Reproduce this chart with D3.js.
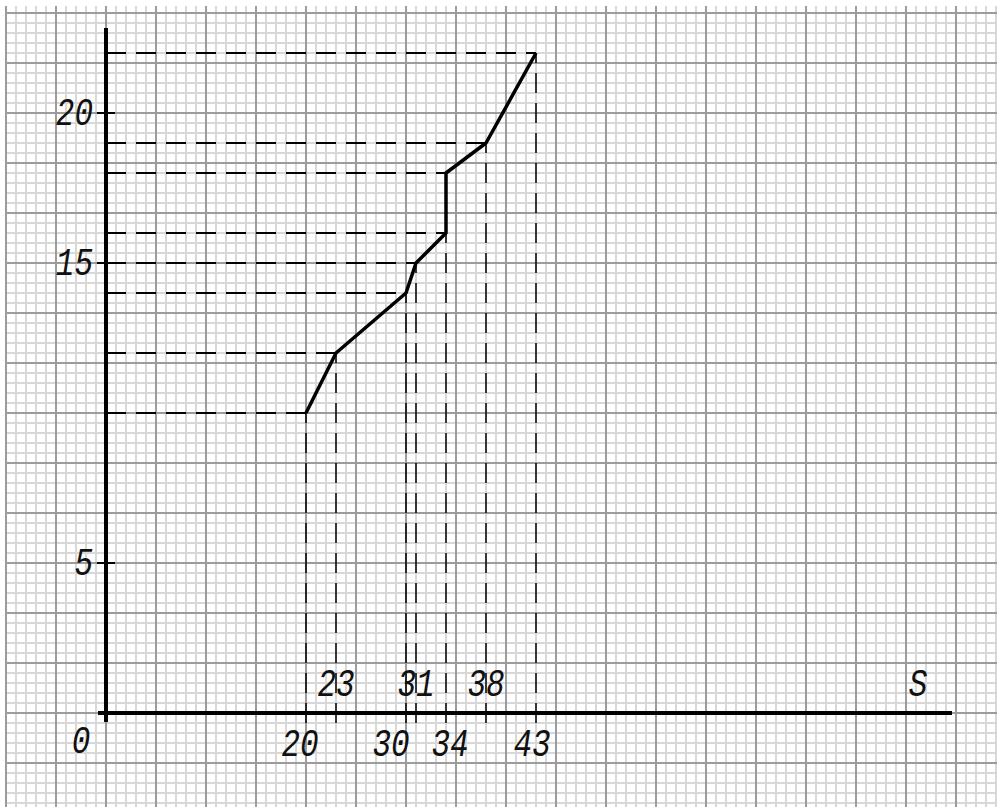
<!DOCTYPE html>
<html><head><meta charset="utf-8">
<script src="https://cdn.jsdelivr.net/npm/d3@7"></script>
<style>body{margin:0;background:#fff;}svg{display:block;}</style>
</head><body>
<script>
// Data
const sValues = [20, 23, 30, 31, 34, 34, 38, 43];
const yValues = [10, 12, 14, 15, 16, 18, 19, 22];
const xTopLabels = ["23", "31", "38"];
const xTopLabelValues = [23, 31, 38];
const xBottomLabels = ["20", "30", "34", "43"];
const xBottomLabelValues = [20, 30, 34, 43];
const yTickValues = [5, 15, 20];
const yTickLabels = ["5", "15", "20"];

(function () {
const W = 997, H = 807;
const svg = d3.select("body").append("svg").attr("width", W).attr("height", H);

const x = d3.scaleLinear().domain([0, 1]).range([106, 116]);
const y = d3.scaleLinear().domain([0, 1]).range([713, 683]);

// Grid
const g = svg.append("g");
const gx = d3.range(-10, 90);
const gy = d3.range(-9, 71);
const gridTop = 6, gridLeft = 7;
function drawGrid(major) {
  g.selectAll(null).data(gx.filter(k => (k % 5 === 0) === major)).join("line")
    .attr("x1", k => x(k)).attr("x2", k => x(k)).attr("y1", gridTop).attr("y2", H)
    .attr("stroke", major ? "#9c9c9c" : "#d8d8d8").attr("stroke-width", 2);
  g.selectAll(null).data(gy.filter(k => (k % 5 === 0) === major)).join("line")
    .attr("y1", k => 713 - 10 * k).attr("y2", k => 713 - 10 * k).attr("x1", gridLeft).attr("x2", W)
    .attr("stroke", major ? "#9c9c9c" : "#d8d8d8").attr("stroke-width", 2);
}
drawGrid(false);
drawGrid(true);

// Dashed guides
const pts = sValues.map((s, i) => [s, yValues[i]]);
svg.append("g").selectAll("line").data(pts).join("line")
  .attr("x1", x(0)).attr("x2", d => x(d[0])).attr("y1", d => y(d[1])).attr("y2", d => y(d[1]))
  .attr("stroke", "#000").attr("stroke-width", 2).attr("stroke-dasharray", "20,10");
const vx = Array.from(new Set(sValues));
svg.append("g").selectAll("line").data(vx).join("line")
  .attr("x1", d => x(d)).attr("x2", d => x(d)).attr("y1", 723)
  .attr("y2", d => y(d3.min(pts.filter(p => p[0] === d), p => p[1])))
  .attr("stroke", "#000").attr("stroke-width", 1.5).attr("stroke-dasharray", "20,10");

// Axes
svg.append("line").attr("x1", x(0)).attr("x2", x(0)).attr("y1", 28).attr("y2", 722)
  .attr("stroke", "#000").attr("stroke-width", 4);
svg.append("line").attr("x1", 98).attr("x2", 952).attr("y1", y(0)).attr("y2", y(0))
  .attr("stroke", "#000").attr("stroke-width", 4);
svg.append("g").selectAll("line").data(yTickValues).join("line")
  .attr("x1", 97).attr("x2", 115).attr("y1", d => y(d)).attr("y2", d => y(d))
  .attr("stroke", "#000").attr("stroke-width", 2);

// Curve
svg.append("path").datum(pts)
  .attr("d", d3.line().x(d => x(d[0])).y(d => y(d[1])))
  .attr("fill", "none").attr("stroke", "#000").attr("stroke-width", 3.5).attr("stroke-linejoin", "round");

// Labels
const font = "'Liberation Mono', monospace";
const fs = 31;
function txt(t, px, py, anchor) {
  svg.append("text").attr("transform", `translate(${px},${py}) scale(1,1.25)`)
    .attr("text-anchor", anchor || "middle")
    .attr("font-family", font).attr("font-style", "italic").attr("font-size", fs)
    .attr("fill", "#111").text(t);
}
yTickLabels.forEach((t, i) => txt(t, 93, y(yTickValues[i]) + 12, "end"));
xTopLabels.forEach((t, i) => txt(t, x(xTopLabelValues[i]), 696));
const bottomShift = [-6, -15, 4, -4];
xBottomLabels.forEach((t, i) => txt(t, x(xBottomLabelValues[i]) + bottomShift[i], 756));
txt("0", 81, 753);
txt("S", 918, 696);
})();
</script>
</body></html>
